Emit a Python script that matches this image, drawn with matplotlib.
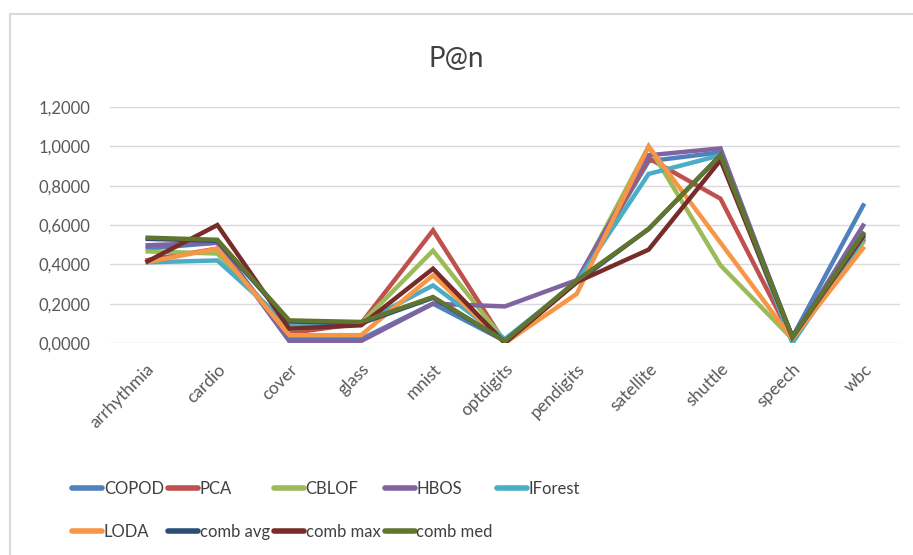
import matplotlib
matplotlib.use("Agg")
import matplotlib.pyplot as plt
from matplotlib.lines import Line2D
from matplotlib.ticker import FuncFormatter

datasets = ["arrhythmia", "cardio", "cover", "glass", "mnist", "optdigits",
            "pendigits", "satellite", "shuttle", "speech", "wbc"]

copod = [0.48, 0.51, 0.02, 0.02, 0.20, 0.01, 0.31, 0.925, 0.97, 0.03, 0.71]
pca = [0.42, 0.48, 0.05, 0.10, 0.573, 0.0, 0.31, 0.94, 0.734, 0.02, 0.53]
cblof = [0.466, 0.455, 0.07, 0.10, 0.47, 0.01, 0.31, 1.0, 0.395, 0.02, 0.52]
hbos = [0.497, 0.51, 0.01, 0.01, 0.20, 0.186, 0.32, 0.955, 0.99, 0.02, 0.607]
iforest = [0.41, 0.42, 0.09, 0.10, 0.293, 0.02, 0.31, 0.86, 0.955, 0.0, 0.54]
loda = [0.41, 0.48, 0.04, 0.04, 0.344, 0.0, 0.25, 1.0, 0.51, 0.02, 0.49]
comb_avg = [0.53, 0.52, 0.11, 0.10, 0.23, 0.01, 0.31, 0.58, 0.955, 0.03, 0.56]
comb_max = [0.41, 0.60, 0.073, 0.09, 0.378, 0.0, 0.31, 0.475, 0.93, 0.03, 0.55]
comb_med = [0.536, 0.525, 0.115, 0.107, 0.234, 0.01, 0.318, 0.58, 0.955, 0.03, 0.565]

series = [
    ("COPOD", copod, "#4F81BD"),
    ("PCA", pca, "#C0504D"),
    ("CBLOF", cblof, "#9BBB59"),
    ("HBOS", hbos, "#8064A2"),
    ("IForest", iforest, "#4BACC6"),
    ("LODA", loda, "#F79646"),
    ("comb avg", comb_avg, "#2C4D75"),
    ("comb max", comb_max, "#772C2A"),
    ("comb med", comb_med, "#5F7530"),
]

plt.rcParams['font.family'] = ['Lato', 'DejaVu Sans']

fig = plt.figure(figsize=(9.13, 5.55), dpi=100)
ax = fig.add_axes([0.12, 0.382, 0.866, 0.425])

x = list(range(len(datasets)))
handles = []
for name, vals, color in series:
    h, = ax.plot(x, vals, color=color, linewidth=3.2, label=name,
                 solid_joinstyle='miter', solid_capstyle='butt')
    handles.append(h)

ax.set_xlim(-0.5, len(datasets) - 0.5)
ax.set_ylim(0, 1.2)
ax.set_yticks([0, 0.2, 0.4, 0.6, 0.8, 1.0, 1.2])
ax.yaxis.set_major_formatter(FuncFormatter(lambda v, p: f"{v:.4f}".replace(".", ",")))
ax.set_xticks(x)
ax.set_xticklabels(datasets, rotation=45, ha='right', rotation_mode='anchor')
ax.tick_params(axis='both', length=0, labelcolor='#595959')
ax.tick_params(axis='x', pad=13, labelsize=12.5)
ax.tick_params(axis='y', pad=14, labelsize=12)
ax.grid(axis='y', color='#D9D9D9', linewidth=1)
ax.set_axisbelow(True)
for s in ax.spines.values():
    s.set_visible(False)

fig.text(0.5, 0.893, "P@n", ha='center', va='center', fontsize=20, color='#404040')

# legend laid out row by row like Excel
order = [0, 5, 1, 6, 2, 7, 3, 8, 4]
leg = fig.legend([handles[i] for i in order], [series[i][0] for i in order],
                 ncol=5, loc='upper left', bbox_to_anchor=(0.079, 0.134),
                 frameon=False, fontsize=12, handlelength=1.8, handletextpad=0.1,
                 columnspacing=0.25, labelspacing=1.65, borderpad=0, borderaxespad=0)
for t in leg.get_texts():
    t.set_color('#404040')
for ln in leg.get_lines():
    ln.set_linewidth(4)
    ln.set_solid_capstyle('round')

# chart area border (partly cropped in the original)
fig.add_artist(Line2D([0.011, 1.0], [0.975, 0.975], color='#D9D9D9', linewidth=1.5))
fig.add_artist(Line2D([0.011, 0.011], [0.0, 0.975], color='#D9D9D9', linewidth=1.5))

fig.savefig("out.png", dpi=100)
